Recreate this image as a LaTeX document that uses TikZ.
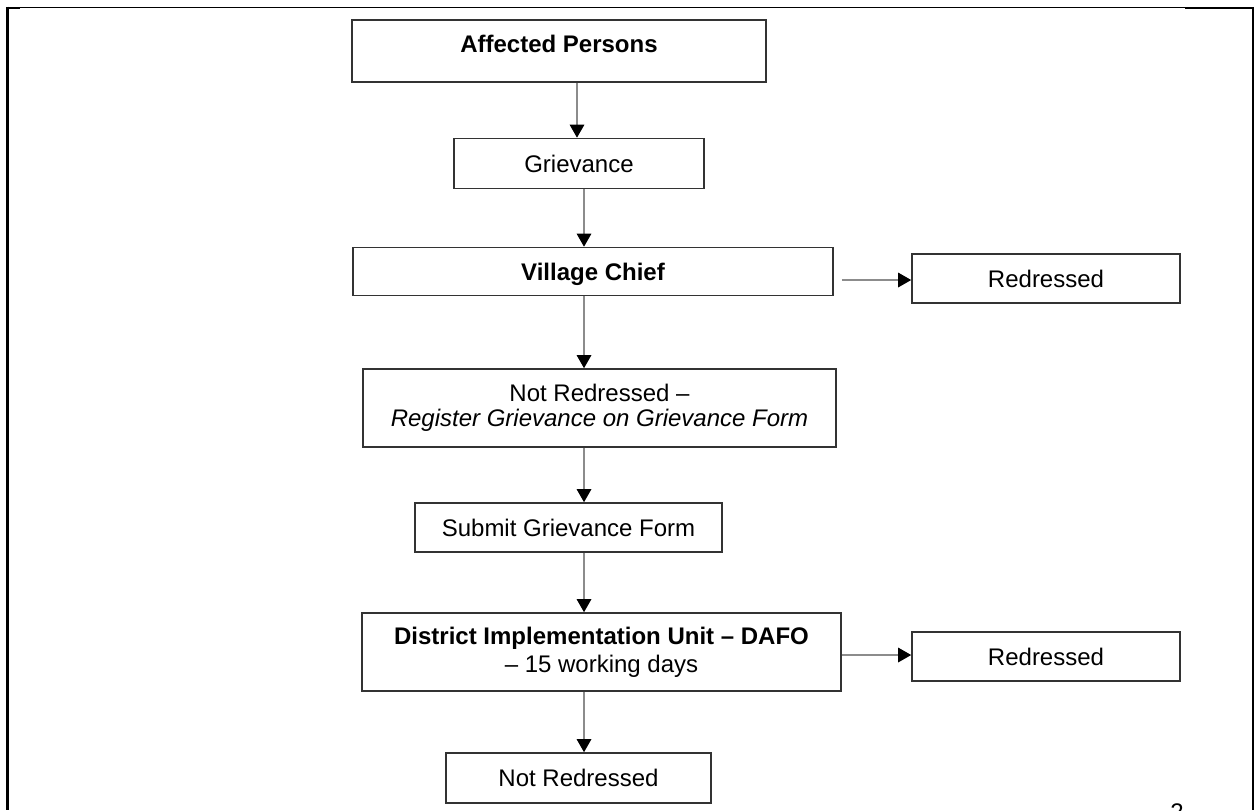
\documentclass[tikz,border=0pt]{standalone}
\usepackage{fontspec}
\setmainfont{Liberation Sans}
\usetikzlibrary{arrows.meta,calc}

\tikzset{
  box/.style={draw=black!80, line width=0.8pt, inner sep=0pt, align=center, font=\fontsize{12}{14}\selectfont},
  oneline/.style={text height=8.6pt, text depth=0pt},
  flow/.style={draw=black!45, line width=0.8pt, -{Triangle[length=6.5pt,width=7.2pt,black]}}
}

\begin{document}
\begin{tikzpicture}[x=0.5pt,y=-0.5pt]
\useasboundingbox (0,0) rectangle (1257,810);

% page border
\draw[line width=0.5pt] (7,7) -- (1185,7);
\draw[line width=1.5pt] (7,6.5) -- (7,810);
\draw[line width=1pt] (7,7.5) -- (20,7.5);
\draw[line width=1pt] (1185,8) -- (1253,8) -- (1253,810);

\coordinate (col1) at (577,0);
\coordinate (col2) at (584,0);
\coordinate (row1) at (0,280);
\coordinate (row2) at (0,655);

\node[box, minimum width=207pt, minimum height=31pt] (affected) at (559,51) {};
\node[font=\fontsize{12}{14}\selectfont\bfseries, anchor=base, inner sep=0pt] (affectedTxt) at (559,52) {Affected Persons};
\node[box, oneline, minimum width=125pt, minimum height=25pt] (grievance) at (579,163.5) {Grievance};
\node[box, oneline, minimum width=240pt, minimum height=24pt, font=\fontsize{12}{14}\selectfont\bfseries] (chief) at (593,271.5) {Village Chief};
\node[box, oneline, minimum width=134pt, minimum height=24.5pt] (redressA) at (1046,278.5) {Redressed};
\node[box, minimum width=236.5pt, minimum height=39pt, font=\fontsize{12}{12.5}\selectfont] (notredA) at (599.5,408) {Not Redressed –\\\textit{Register Grievance on Grievance Form}};
\node[box, oneline, minimum width=153.5pt, minimum height=24.5pt] (submit) at (568.5,527.5) {Submit Grievance Form};
\node[box, minimum width=239.5pt, minimum height=39pt] (district) at (601.5,652) {\textbf{District Implementation Unit – DAFO}\\– 15 working days};
\node[box, oneline, minimum width=134pt, minimum height=24.5pt] (redressB) at (1046,656.5) {Redressed};
\node[box, oneline, minimum width=132.5pt, minimum height=25pt] (notredB) at (578.5,778) {Not Redressed};

\draw[flow] (affected.south -| col1) -- (grievance.north -| col1);
\draw[flow] (grievance.south -| col2) -- (chief.north -| col2);
\draw[flow] (chief.south -| col2) -- (notredA.north -| col2);
\draw[flow] (notredA.south -| col2) -- (submit.north -| col2);
\draw[flow] (submit.south -| col2) -- (district.north -| col2);
\draw[flow] (district.south -| col2) -- (notredB.north -| col2);
\draw[flow] ($(chief.east |- row1)+(4pt,0)$) -- (redressA.west |- row1);
\draw[flow] (district.east |- row2) -- (redressB.west |- row2);

\node[anchor=north, inner sep=0pt, font=\fontsize{12}{14}\selectfont] (pagenum) at (1177,803) {2};

\end{tikzpicture}
\end{document}
